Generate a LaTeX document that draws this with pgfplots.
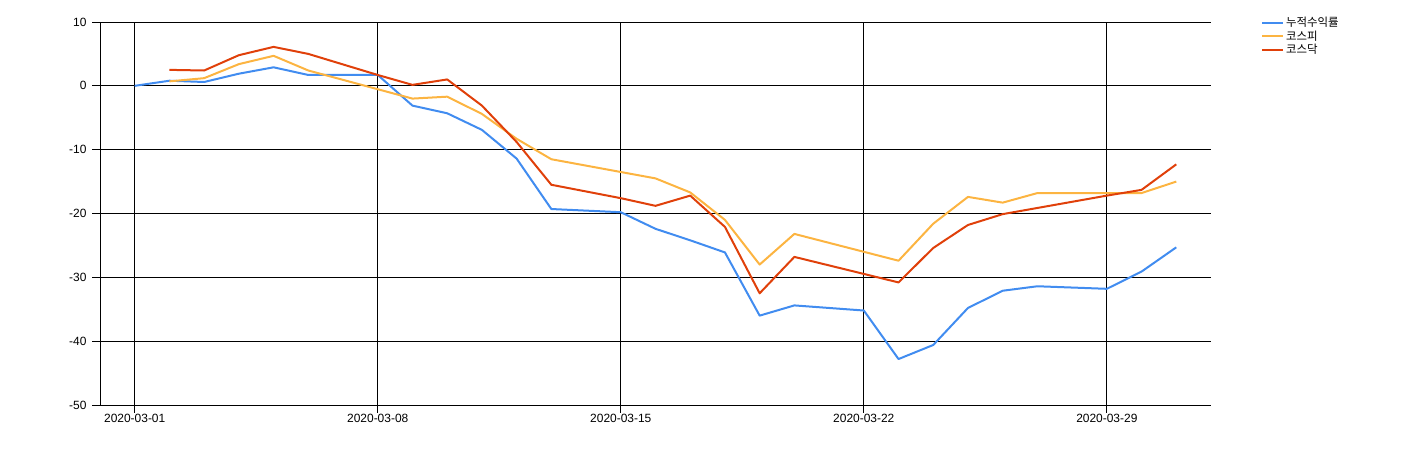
\documentclass[border=0pt]{standalone}
\usepackage{fontspec}
\setmainfont{Liberation Sans}
\newfontfamily\kr{Noto Sans CJK KR}
\usepackage{pgfplots}
\pgfplotsset{compat=1.18}
\definecolor{cblue}{HTML}{418CF0}
\definecolor{corange}{HTML}{FCB441}
\definecolor{cred}{HTML}{E0400A}
\begin{document}
\begin{tikzpicture}[x=1bp,y=1bp]
\path[use as bounding box] (0,0) rectangle (1408,449);
\begin{axis}[
  at={(100bp,44bp)}, anchor=south west,
  width=1111bp, height=383bp, scale only axis,
  xmin=-1, xmax=31, ymin=-50, ymax=10,
  ytick={-50,-40,...,10},
  xtick={0,7,14,21,28},
  xticklabels={2020-03-01,2020-03-08,2020-03-15,2020-03-22,2020-03-29},
  grid=major, grid style={black, line width=0.8bp},
  axis x line*=bottom, axis y line*=left,
  axis line style={black, line width=0.8bp},
  tick style={black, line width=0.8bp},
  tick align=outside,
  major tick length=8bp,
  ticklabel style={font=\fontsize{12}{14}\selectfont},
  /pgf/number format/assume math mode=true,
  yticklabel style={xshift=-2bp},
  xticklabel style={yshift=2bp},
  legend style={at={(1.044,1.020)}, anchor=north west, draw=none, fill=none,
    font=\kr\fontsize{11.5}{14}\selectfont, row sep=-1.5bp, inner sep=1bp},
  legend cell align=left,
  legend image code/.code={\draw[#1] (0bp,0bp) -- (21bp,0bp);},
  every axis plot/.append style={line width=2bp, line join=round},
]
\addplot[cblue] coordinates {
(0,0) (1,0.8) (2,0.6) (3,1.9) (4,2.9) (5,1.7) (7,1.7) (8,-3.1) (9,-4.3) (10,-6.9) (11,-11.4) (12,-19.3)
(14,-19.8) (15,-22.4) (16,-24.2) (17,-26.1) (18,-36.0) (19,-34.4) (21,-35.2) (22,-42.8) (23,-40.6)
(24,-34.8) (25,-32.1) (26,-31.4) (28,-31.8) (29,-29.1) (30,-25.3)};
\addlegendentry{누적수익률}
\addplot[corange] coordinates {
(1,0.7) (2,1.2) (3,3.4) (4,4.7) (5,2.4) (8,-2.0) (9,-1.7) (10,-4.4) (11,-8.3) (12,-11.5)
(15,-14.5) (16,-16.7) (17,-21.0) (18,-28.0) (19,-23.2) (22,-27.4) (23,-21.6) (24,-17.4) (25,-18.3)
(26,-16.8) (28,-16.8) (29,-16.8) (30,-15.0)};
\addlegendentry{코스피}
\addplot[cred] coordinates {
(1,2.5) (2,2.4) (3,4.8) (4,6.1) (5,5.0) (7,1.7) (8,0.15) (9,1.0) (10,-3.1) (11,-8.8) (12,-15.5)
(14,-17.6) (15,-18.8) (16,-17.2) (17,-22.1) (18,-32.5) (19,-26.8) (22,-30.8) (23,-25.4) (24,-21.8)
(25,-20.1) (28,-17.2) (29,-16.3) (30,-12.3)};
\addlegendentry{코스닥}
\end{axis}
\end{tikzpicture}
\end{document}
